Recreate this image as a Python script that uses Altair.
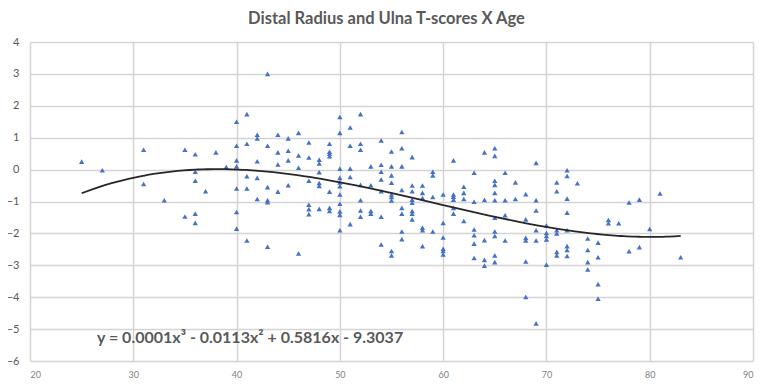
import altair as alt
import pandas as pd

# T-scores grouped by age
col_ages = [25, 27, 31, 33, 35, 36, 37, 38, 39, 40, 41, 42, 43, 44, 45, 46, 47, 48, 49,
            50, 51, 52, 53, 54, 55, 56, 57, 58, 59, 60, 61, 62, 63, 64, 65, 66, 67, 68,
            69, 70, 71, 72, 73, 74, 75, 76, 77, 78, 79, 80, 81, 83]
col_scores = [
    [0.25],
    [-0.02],
    [0.62, -0.45],
    [-0.96],
    [0.62, -1.47],
    [0.48, -0.07, -0.35, -1.38, -1.67],
    [-0.68],
    [0.54],
    [0.08],
    [1.5, 0.75, 0.29, 0.10, -0.59, -1.33, -1.85],
    [1.74, 0.81, -0.21, -0.59, -2.22],
    [1.09, 0.98, 0.26, -0.26, -0.92],
    [3.0, 0.75, -0.55, -0.96, -1.02, -2.42],
    [1.09, 0.54, 0.16, -0.69],
    [0.98, 0.59, 0.29, -0.49],
    [1.15, 0.44, 0.06, -2.63],
    [0.85, 0.38, -0.35, -1.1, -1.24, -1.4],
    [0.31, 0.19, -0.08, -0.42, -0.51, -1.23],
    [0.81, 0.56, 0.5, 0.42, -0.69, -1.2, -1.3],
    [1.65, 1.15, 0.03, -0.26, -0.4, -0.52, -0.78, -1.07, -1.31, -1.42, -1.9],
    [1.32, 0.75, 0.03, -0.23, -1.71],
    [1.74, 0.81, 0.62, -0.48, -0.96, -1.28, -1.48],
    [0.1, -0.49, -1.3, -1.38],
    [0.91, 0.15, -0.07, -0.31, -0.68, -1.48, -2.35],
    [0.57, 0.1, -0.18, -0.41, -0.78, -0.86, -0.97, -2.55, -2.69],
    [1.18, 0.67, 0.10, -0.64, -1.20, -1.38, -1.94, -2.18],
    [0.39, -0.5, -0.68, -0.94, -1.04, -1.30, -1.38, -1.56],
    [-0.5, -0.73, -0.89, -1.82, -1.90, -2.40],
    [-0.07, -0.18, -0.86, -1.94],
    [-0.78, -1.67, -2.13, -2.48, -2.55, -2.66],
    [0.29, -0.78, -0.85, -0.94, -1.20, -1.38],
    [-0.54, -0.73, -0.92, -1.61],
    [-0.10, -1.01, -1.88, -2.06, -2.32, -2.77],
    [0.54, -0.95, -2.21, -2.83, -3.01],
    [0.67, 0.43, -0.35, -0.48, -0.73, -0.96, -1.51, -1.94, -2.08, -2.69, -2.90],
    [-0.10, -0.96, -1.43, -2.22],
    [-0.40, -0.92],
    [-0.77, -1.56, -2.14, -2.22, -2.88, -3.99],
    [0.21, -0.96, -1.28, -1.90, -2.22, -4.82],
    [-1.75, -1.99, -2.08, -2.19, -2.98],
    [-0.40, -0.68, -1.90, -2.0, -2.58, -2.69],
    [-0.02, -0.20, -0.91, -1.35, -1.90, -2.40, -2.52, -2.71],
    [-0.43],
    [-2.16, -2.52, -2.90, -3.13],
    [-2.29, -2.75, -3.59, -4.05],
    [-1.58, -1.68],
    [-1.68],
    [-1.03, -2.56],
    [-0.94, -2.43],
    [-1.86],
    [-0.75],
    [-2.75],
]

x_ticks = [20, 30, 40, 50, 60, 70, 80, 90]
y_ticks = [-6, -5, -4, -3, -2, -1, 0, 1, 2, 3, 4]
title_text = "Distal Radius and Ulna T-scores X Age"
equation_text = "y = 0.0001x³ - 0.0113x² + 0.5816x - 9.3037"

ages = []
scores = []
for a, vals in zip(col_ages, col_scores):
    for v in vals:
        ages.append(a)
        scores.append(v)

df = pd.DataFrame({"age": ages, "t": scores})

FONT = "Lato"
GRAY = "#595959"
GRID = "#d4d4d4"

xscale = alt.Scale(domain=[20, 90], nice=False, zero=False)
yscale = alt.Scale(domain=[-6, 4], nice=False, zero=False)

x_axis = alt.Axis(
    values=x_ticks, title=None, grid=True, gridColor=GRID, gridWidth=1.5,
    domain=False, ticks=False, labelFont=FONT, labelFontSize=9,
    labelColor="#7f7f7f", labelPadding=9, labelOverlap=False)
y_axis = alt.Axis(
    values=y_ticks, title=None, grid=True, gridColor=GRID, gridWidth=1.5,
    domain=False, ticks=False, labelFont=FONT, labelFontSize=11,
    labelColor=GRAY, labelPadding=11, labelOverlap=False)

X = alt.X("age:Q", scale=xscale, axis=x_axis)
Y = alt.Y("t:Q", scale=yscale, axis=y_axis)

base = alt.Chart(df)

points = base.mark_point(
    shape="triangle-up", filled=True, size=28, color="#4472C4", opacity=1
).encode(x=X, y=Y)

trend = base.transform_regression(
    "age", "t", method="poly", order=3, extent=[25, 83]
).mark_line(color="#262626", strokeWidth=1.8).encode(x=X, y=Y)

eq = alt.Chart(pd.DataFrame({"label": [equation_text]})).mark_text(
    align="left", baseline="middle", font=FONT, fontSize=16, fontWeight="bold",
    color=GRAY
).encode(
    x=alt.value(67), y=alt.value(296), text="label:N"
)

chart = alt.layer(points, trend, eq).properties(
    width=723,
    height=319,
    autosize=alt.AutoSizeParams(type="none"),
    padding={"left": 22, "top": 34, "right": 4, "bottom": 18},
    title=alt.TitleParams(
        text=title_text, font=FONT, fontSize=16.5, fontWeight="bold", color=GRAY,
        anchor="middle", frame="group", offset=9, dx=-5
    ),
).configure_view(stroke=None)

chart.save("out.html", embed_options={"renderer": "svg", "actions": False})
